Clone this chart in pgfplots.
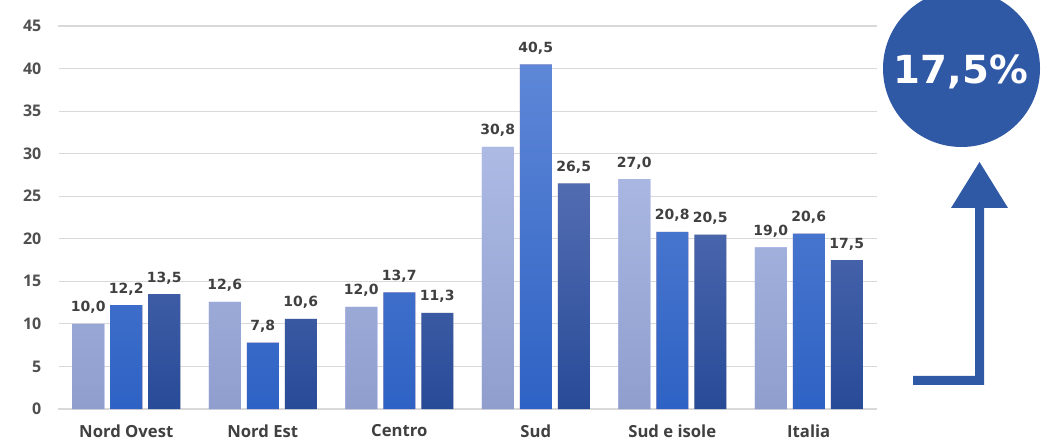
\documentclass[border=0pt]{standalone}
\usepackage{pgfplots}
\pgfplotsset{compat=1.18}
\usepackage{fontspec}
\setmainfont{DejaVu Sans}
\newfontfamily\osans{Open Sans}
\definecolor{lt}{RGB}{172,186,228}
\definecolor{lb}{RGB}{143,158,205}
\definecolor{mt}{RGB}{94,135,215}
\definecolor{mb}{RGB}{46,98,196}
\definecolor{dt}{RGB}{82,108,177}
\definecolor{db}{RGB}{40,75,152}
\definecolor{circ}{RGB}{47,88,165}
\definecolor{lab}{RGB}{64,64,64}
\definecolor{tick}{RGB}{80,80,80}
\definecolor{grid}{RGB}{217,217,217}
\begin{document}
\begin{tikzpicture}[x=0.75pt,y=0.75pt]
\path[use as bounding box] (0,0) rectangle (1042,439);
\begin{axis}[
  name=ax,
  at={(43.5pt,22.5pt)}, anchor=south west,
  width=614.25pt, height=287.25pt, scale only axis,
  axis lines*=left,
  axis line style={draw=none},
  ytick style={draw=none}, xtick style={draw=none},
  xmin=-0.5, xmax=5.5, ymin=0, ymax=45,
  ytick={0,5,...,45},
  xtick={0,...,5},
  xticklabels={Nord Ovest, Nord Est, Centro, Sud, Sud e isole, Italia},
  ymajorgrids, grid style={draw=grid, line width=0.8pt},
  major tick length=0pt,
  /pgf/number format/assume math mode=true,
  y tick label style={font=\osans\bfseries\fontsize{12}{14}\selectfont, text=tick, xshift=-9pt},
  x tick label style={font=\osans\bfseries\fontsize{12.5}{14}\selectfont, text=lab, yshift=-8pt},
  ybar=4.5pt, bar width=24pt,
  nodes near coords={\pgfmathprintnumber[fixed, fixed zerofill, precision=1, use comma]{\pgfplotspointmeta}},
  every node near coord/.append style={font=\bfseries\fontsize{10.5}{12}\selectfont, text=lab, yshift=4pt},
]
\addplot+[draw=none, shade, top color=lt, bottom color=lb] coordinates {(0,10.0) (1,12.6) (2,12.0) (3,30.8) (4,27.0) (5,19.0)};
\addplot+[draw=none, shade, top color=mt, bottom color=mb] coordinates {(0,12.2) (1,7.8) (2,13.7) (3,40.5) (4,20.8) (5,20.6)};
\addplot+[draw=none, shade, top color=dt, bottom color=db] coordinates {(0,13.5) (1,10.6) (2,11.3) (3,26.5) (4,20.5) (5,17.5)};
\end{axis}
\draw[white, line width=1.4pt] ([yshift=0.6pt]ax.south west) -- ([yshift=-0.6pt]ax.north west);
\fill[circ] (961.5,370.5) circle (78.5);
\node[text=white, font=\bfseries\fontsize{29}{30}\selectfont] at (961,367) {17,5\%};
\fill[circ] (913,54) -- (984,54) -- (984,231) -- (1008,231) -- (979.5,277) -- (951,231) -- (975,231) -- (975,63) -- (913,63) -- cycle;
\end{tikzpicture}
\end{document}
